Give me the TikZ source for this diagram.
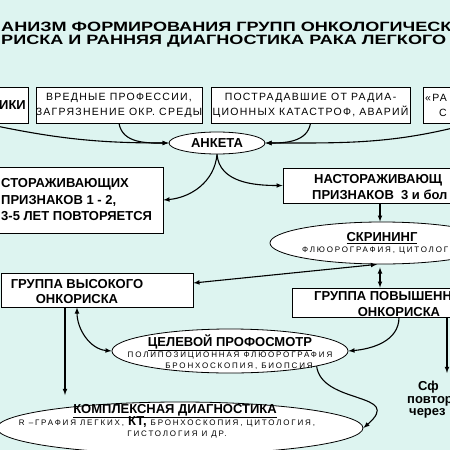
\documentclass[tikz,border=0pt]{standalone}
\usepackage{fontspec}
\usepackage{graphicx}
\setmainfont{Liberation Sans}
\newfontfamily\spacedfont{Liberation Sans}[LetterSpace=12]
\newfontfamily\widefont{Liberation Sans}[LetterSpace=23]
\usetikzlibrary{shapes.geometric}
\definecolor{bgcyan}{RGB}{221,244,240}
\tikzset{>=latex}
\newcommand{\stretched}[1]{\scalebox{1.34}[1]{#1}}
\tikzset{
  box/.style={draw, fill=white, line width=0.8pt, inner sep=0pt},
  oval/.style={draw, ellipse, fill=white, line width=0.8pt, inner sep=0pt},
  headtxt/.style={font=\bfseries\fontsize{13.5}{16}\selectfont, inner sep=0pt, anchor=west},
  boldtxt/.style={font=\bfseries\fontsize{13}{15}\selectfont, align=center, inner sep=0pt},
  thintxt/.style={font=\spacedfont\fontsize{10.5}{15}\selectfont, align=center, inner sep=0pt},
  tinytxt/.style={font=\widefont\fontsize{8}{12}\selectfont, align=center, inner sep=0pt},
  conn/.style={->, line width=1.1pt},
}

\begin{document}
\begin{tikzpicture}[x=1pt,y=1pt]
  \useasboundingbox (0,0) rectangle (450,-450);
  \fill[bgcyan] (0,0) rectangle (450,-450);
  \clip (0,0) rectangle (450,-450);

  % title
  \node[headtxt] (title1) at (1,-27) {\stretched{АНИЗМ ФОРМИРОВАНИЯ ГРУПП ОНКОЛОГИЧЕСК}};
  \node[headtxt] (title2) at (1,-41) {\stretched{РИСКА И РАННЯЯ ДИАГНОСТИКА РАКА ЛЕГКОГО}};

  % top row
  \node[box, minimum width=88, minimum height=36] (genet) at (-16,-105) {};
  \node[boldtxt, anchor=east] (genettxt) at (26,-105) {ИКИ};
  \node[box, minimum width=166, minimum height=36] (harm) at (119,-105) {};
  \node[thintxt] (harmtxt) at (harm) {ВРЕДНЫЕ ПРОФЕССИИ,\\ЗАГРЯЗНЕНИЕ ОКР. СРЕДЫ};
  \node[box, minimum width=199, minimum height=36] (radiat) at (310.5,-105) {};
  \node[thintxt] (radiattxt) at (radiat) {ПОСТРАДАВШИЕ ОТ РАДИА-\\ЦИОННЫХ КАТАСТРОФ, АВАРИЙ};
  \node[box, minimum width=96, minimum height=36] (rak) at (471,-105) {};
  \node[thintxt, anchor=west] (raktxta) at (425,-98) {«РА};
  \node[thintxt, anchor=west] (raktxtb) at (439,-113) {С};

  \node[oval, minimum width=96, minimum height=22] (anketa) at (217,-143) {};
  \node[boldtxt] (anketatxt) at (anketa) {АНКЕТА};

  % middle row
  \node[box, minimum width=203, minimum height=66] (lowrisk) at (61.5,-200) {};
  \node[boldtxt, anchor=west, align=left] (lowrisktxt) at (1,-200)
    {СТОРАЖИВАЮЩИХ\\[1.5pt]ПРИЗНАКОВ 1 - 2,\\[1.5pt]3-5 ЛЕТ ПОВТОРЯЕТСЯ};
  \node[box, minimum width=194, minimum height=35] (sign3) at (380,-185.5) {};
  \node[boldtxt, anchor=west] (sign3txta) at (314,-180) {НАСТОРАЖИВАЮЩ};
  \node[boldtxt, anchor=west] (sign3txtb) at (312,-195) {ПРИЗНАКОВ\ \ 3 и бол};

  \node[oval, minimum width=224, minimum height=42] (screen) at (382,-243) {};
  \node[boldtxt] (screentxt) at (382,-238) {\underline{СКРИНИНГ}};
  \node[tinytxt, anchor=west] (screensub) at (302,-251) {ФЛЮОРОГРАФИЯ, ЦИТОЛОГ};

  % groups
  \node[box, minimum width=192, minimum height=34] (high) at (97,-290) {};
  \node[boldtxt] (hightxt) at (77,-291.5) {ГРУППА ВЫСОКОГО\\ОНКОРИСКА};
  \node[box, minimum width=214, minimum height=29] (raised) at (399,-302.5) {};
  \node[boldtxt, anchor=west] (raisedtxta) at (314,-296) {ГРУППА ПОВЫШЕНН};
  \node[boldtxt] (raisedtxtb) at (399,-312) {ОНКОРИСКА};

  \node[oval, minimum width=236, minimum height=44] (prof) at (230,-351) {};
  \node[boldtxt] (proftxt) at (230,-343) {\underline{ЦЕЛЕВОЙ ПРОФОСМОТР}};
  \node[tinytxt] (profsuba) at (230,-355.5) {ПОЛИПОЗИЦИОННАЯ ФЛЮОРОГРАФИЯ};
  \node[tinytxt] (profsubb) at (239,-366.5) {БРОНХОСКОПИЯ, БИОПСИЯ};

  \node[oval, minimum width=366, minimum height=52] (complex) at (180,-428) {};
  \node[boldtxt] (complextxt) at (175,-411) {\underline{КОМПЛЕКСНАЯ ДИАГНОСТИКА}};
  \node[tinytxt] (complexsuba) at (167,-422)
    {R –ГРАФИЯ ЛЕГКИХ, {\normalfont\bfseries\fontsize{13}{12}\selectfont КТ,} БРОНХОСКОПИЯ, ЦИТОЛОГИЯ,};
  \node[tinytxt] (complexsubb) at (177,-434) {ГИСТОЛОГИЯ И ДР.};

  \node[boldtxt, anchor=west, align=left] (repeattxt) at (407,-400)
    {\hspace*{11pt}Сф\\[-2.5pt]повтор\\[-2.5pt]\hspace*{2pt}через};

  \coordinate (cxin) at (65,-395);
  \coordinate (rpt) at (447,-373);

  % connectors
  \draw[conn] (genet.south) to[out=-12,in=180] (anketa.west);
  \draw[conn] (harm.south) to[out=-80,in=180] (anketa.west);
  \draw[conn] (radiat.south) to[out=-100,in=0] (anketa.east);
  \draw[conn] (rak.south) to[out=-165,in=0] (anketa.east);
  \draw[conn] (anketa.south) to[out=-95,in=5] (lowrisk.east);
  \draw[conn] (anketa.south) to[out=-85,in=180] (sign3.west);
  \draw[conn] (sign3.south) -- (sign3.south |- screen.north);
  \draw[conn,<->] ([yshift=7pt]high.east) -- ([xshift=-5pt]screen.south);
  \draw[conn,<->] ([xshift=-2pt,yshift=-3pt]screen.south) -- ([xshift=-2pt]screen.south |- raised.north);
  \draw[conn] ([xshift=-32pt]high.south) -- (cxin);
  \draw[conn,<->] ([xshift=-20pt]high.south) to[out=-90,in=175] (prof.west);
  \draw[conn] (raised.south) to[out=-90,in=5] (prof.east);
  \draw[conn] ([xshift=48pt]raised.south) -- (rpt);
  \draw[conn] (prof.-10) .. controls (322,-405) and (405,-392) .. (complex.east);
\end{tikzpicture}
\end{document}
